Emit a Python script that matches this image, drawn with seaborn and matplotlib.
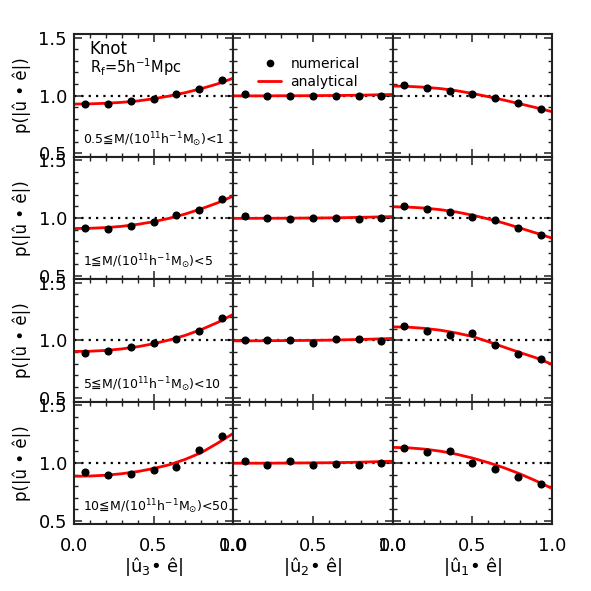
import numpy as np
import pandas as pd
import seaborn as sns
import matplotlib
matplotlib.use("Agg")
import matplotlib.pyplot as plt
from matplotlib.lines import Line2D
from matplotlib.ticker import MultipleLocator

# bin centres of the numerical histograms and sample points of the analytical curves
bin_centers = [0.071, 0.214, 0.357, 0.5, 0.643, 0.786, 0.929]
curve_x = [0.0, 0.1, 0.2, 0.3, 0.4, 0.5, 0.6, 0.7, 0.8, 0.9, 1.0]

# numerical points, one list per mass bin (rows), for each eigenvector (column)
num_u3 = [
    [0.926, 0.930, 0.950, 0.974, 1.010, 1.060, 1.130],
    [0.912, 0.909, 0.929, 0.968, 1.026, 1.068, 1.168],
    [0.894, 0.909, 0.944, 0.979, 1.012, 1.082, 1.194],
    [0.924, 0.897, 0.906, 0.941, 0.968, 1.109, 1.232],
]
num_u2 = [
    [1.012, 1.000, 1.000, 1.000, 1.000, 0.994, 0.994],
    [1.020, 1.000, 0.990, 1.000, 1.000, 0.990, 1.000],
    [1.000, 1.003, 1.006, 0.976, 1.012, 1.015, 0.997],
    [1.020, 0.985, 1.015, 0.979, 0.991, 0.979, 1.000],
]
num_u1 = [
    [1.088, 1.065, 1.038, 1.009, 0.979, 0.932, 0.882],
    [1.106, 1.082, 1.056, 1.006, 0.979, 0.912, 0.856],
    [1.129, 1.085, 1.047, 1.065, 0.959, 0.879, 0.838],
    [1.129, 1.091, 1.106, 1.000, 0.950, 0.882, 0.815],
]

# analytical curves
ana_u3 = [
    [0.926, 0.928, 0.933, 0.941, 0.953, 0.972, 0.996, 1.025, 1.060, 1.100, 1.150],
    [0.909, 0.911, 0.917, 0.928, 0.945, 0.968, 0.998, 1.035, 1.080, 1.130, 1.190],
    [0.905, 0.907, 0.914, 0.927, 0.946, 0.972, 1.005, 1.045, 1.095, 1.155, 1.226],
    [0.885, 0.887, 0.894, 0.907, 0.926, 0.952, 0.985, 1.032, 1.090, 1.170, 1.256],
]
ana_u2 = [
    [0.997, 0.997, 0.997, 0.998, 0.998, 0.999, 1.000, 1.001, 1.003, 1.006, 1.009],
    [0.997, 0.997, 0.998, 0.998, 0.999, 1.000, 1.001, 1.003, 1.006, 1.009, 1.012],
    [0.997, 0.997, 0.998, 0.999, 1.000, 1.001, 1.003, 1.006, 1.009, 1.013, 1.018],
    [0.998, 0.998, 0.998, 0.999, 1.000, 1.001, 1.002, 1.004, 1.007, 1.011, 1.015],
]
ana_u1 = [
    [1.082, 1.079, 1.072, 1.060, 1.042, 1.018, 0.990, 0.960, 0.928, 0.895, 0.860],
    [1.097, 1.094, 1.086, 1.072, 1.052, 1.025, 0.992, 0.955, 0.913, 0.870, 0.826],
    [1.118, 1.115, 1.105, 1.089, 1.065, 1.035, 0.990, 0.942, 0.895, 0.850, 0.794],
    [1.135, 1.131, 1.120, 1.102, 1.076, 1.043, 1.003, 0.958, 0.905, 0.845, 0.780],
]

mass_labels = [
    "0.5≦M/(10$^{11}$h$^{-1}$M$_{\\odot}$)<1",
    "1≦M/(10$^{11}$h$^{-1}$M$_{\\odot}$)<5",
    "5≦M/(10$^{11}$h$^{-1}$M$_{\\odot}$)<10",
    "10≦M/(10$^{11}$h$^{-1}$M$_{\\odot}$)<50",
]
xlabels = [r"|û$_{3}$• ê|", r"|û$_{2}$• ê|", r"|û$_{1}$• ê|"]
ylabel = "p(|û • ê|)"

sns.set_style("ticks")
plt.rcParams['font.family'] = ['DejaVu Sans']
plt.rcParams['mathtext.default'] = 'regular'
plt.rcParams['text.color'] = 'black'
plt.rcParams['axes.labelcolor'] = 'black'
plt.rcParams['xtick.color'] = 'black'
plt.rcParams['ytick.color'] = 'black'

fig, axes = plt.subplots(4, 3, figsize=(5.91, 5.91), dpi=100)
fig.subplots_adjust(left=0.125, right=0.934, top=0.942, bottom=0.113,
                    wspace=0, hspace=0)

columns = [(num_u3, ana_u3), (num_u2, ana_u2), (num_u1, ana_u1)]

for row in range(4):
    for col in range(3):
        ax = axes[row, col]
        num, ana = columns[col]
        ax.axhline(1.0, color='black', ls=(0, (1, 2.3)), lw=1.6, zorder=1)
        sns.lineplot(x=curve_x, y=ana[row], color='red', lw=2, ax=ax, zorder=2)
        sns.scatterplot(x=bin_centers, y=num[row], color='black', s=34,
                        edgecolor='black', linewidth=0, ax=ax, zorder=3)
        ax.set_xlim(0, 1)
        ax.set_ylim(0.47, 1.53)
        ax.set_xticks([0.0, 0.5, 1.0])
        ax.set_yticks([0.5, 1.0, 1.5])
        ax.xaxis.set_minor_locator(MultipleLocator(0.1))
        ax.yaxis.set_minor_locator(MultipleLocator(0.1))
        ax.tick_params(which='both', direction='in', top=True, right=True,
                       color='#222222')
        ax.tick_params(which='major', length=6, width=1.1, labelsize=13)
        ax.tick_params(which='minor', length=3, width=1)
        for s in ax.spines.values():
            s.set_linewidth(1.5)
            s.set_color('#222222')
        if col == 0:
            ax.set_yticklabels(["0.5", "1.0", "1.5"])
            ax.tick_params(axis='y', pad=5)
            ax.set_ylabel(ylabel, fontsize=12)
            ax.yaxis.set_label_coords(-0.27, 0.5)
            ax.text(0.055, 0.14, mass_labels[row], transform=ax.transAxes,
                    fontsize=9, va='center', ha='left')
        else:
            ax.set_yticklabels([])
            ax.set_ylabel("")
        if row == 3:
            ax.set_xticklabels(["0.0", "0.5", "1.0"])
            ax.tick_params(axis='x', pad=9)
            ax.set_xlabel(xlabels[col], fontsize=13)
            ax.xaxis.set_label_coords(0.5, -0.25)
        else:
            ax.set_xticklabels([])
            ax.set_xlabel("")

axes[0, 0].text(0.1, 0.88, "Knot", transform=axes[0, 0].transAxes,
                fontsize=12, va='center', ha='left')
axes[0, 0].text(0.1, 0.73, r"R$_{f}$=5h$^{-1}$Mpc", transform=axes[0, 0].transAxes,
                fontsize=10.5, va='center', ha='left')

handles = [
    Line2D([], [], marker='o', color='black', ls='none', markersize=4.5),
    Line2D([], [], color='red', lw=2),
]
axes[0, 1].legend(handles, ["numerical", "analytical"], loc='upper left',
                  bbox_to_anchor=(0.08, 0.92), frameon=False, fontsize=10,
                  handlelength=1.6, handletextpad=0.7, labelspacing=0.3)

fig.savefig("out.png", dpi=100)
